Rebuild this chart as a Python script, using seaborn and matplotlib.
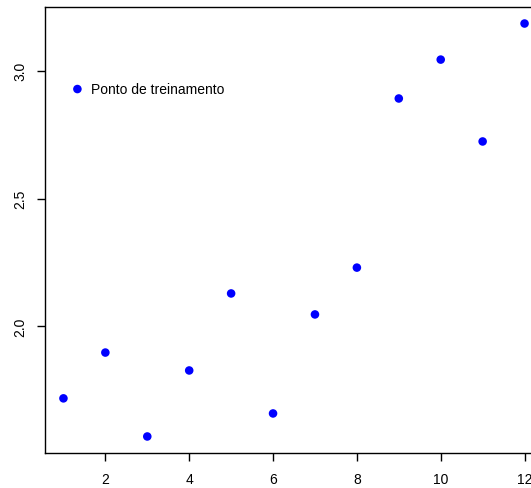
import matplotlib
matplotlib.use("Agg")
import matplotlib.pyplot as plt
import seaborn as sns
import pandas as pd

x_vals = [1, 2, 3, 4, 5, 6, 7, 8, 9, 10, 11, 12]
y_vals = [1.719, 1.898, 1.570, 1.828, 2.129, 1.660, 2.047, 2.230, 2.891, 3.043, 2.723, 3.184]
x_ticks = [2, 4, 6, 8, 10, 12]
y_ticks = [2.0, 2.5, 3.0]
y_tick_labels = ["2.0", "2.5", "3.0"]
legend_label = "Ponto de treinamento"

sns.set_style("white")
plt.rcParams['font.family'] = ['Liberation Sans', 'DejaVu Sans']

W, H = 531, 489
fig = plt.figure(figsize=(W / 100, H / 100), dpi=100)
left, right, top, bottom = 45, 543, 8, 454
ax = fig.add_axes([left / W, (H - bottom) / H, (right - left) / W, (bottom - top) / H])

df = pd.DataFrame({"x": x_vals, "y": y_vals})
sns.scatterplot(data=df, x="x", y="y", ax=ax, color="#0000ff", s=38,
                edgecolor="none", label=legend_label)

pad_x = (max(x_vals) - min(x_vals)) * 0.04
pad_y = (max(y_vals) - min(y_vals)) * 0.04
ax.set_xlim(min(x_vals) - pad_x, max(x_vals) + pad_x)
ax.set_ylim(min(y_vals) - pad_y, max(y_vals) + pad_y)

ax.set_xticks(x_ticks)
ax.set_xticklabels([str(t) for t in x_ticks])
ax.set_yticks(y_ticks)
ax.set_yticklabels(y_tick_labels, rotation=90, va="center")
ax.set_xlabel("")
ax.set_ylabel("")
ax.tick_params(axis="both", direction="out", length=6, width=1, color="black",
               labelcolor="black", labelsize=10, left=True, bottom=True)
ax.tick_params(axis="x", pad=8)
ax.tick_params(axis="y", pad=7)
for s in ax.spines.values():
    s.set_color("black")
    s.set_linewidth(1)

leg = ax.legend(loc="upper left", bbox_to_anchor=(0.033, 0.845), frameon=False,
                fontsize=10, handletextpad=0.2, borderaxespad=0.0,
                handlelength=1.5, markerscale=1.0)
for t in leg.get_texts():
    t.set_color("black")

fig.savefig("out.png", dpi=100)
